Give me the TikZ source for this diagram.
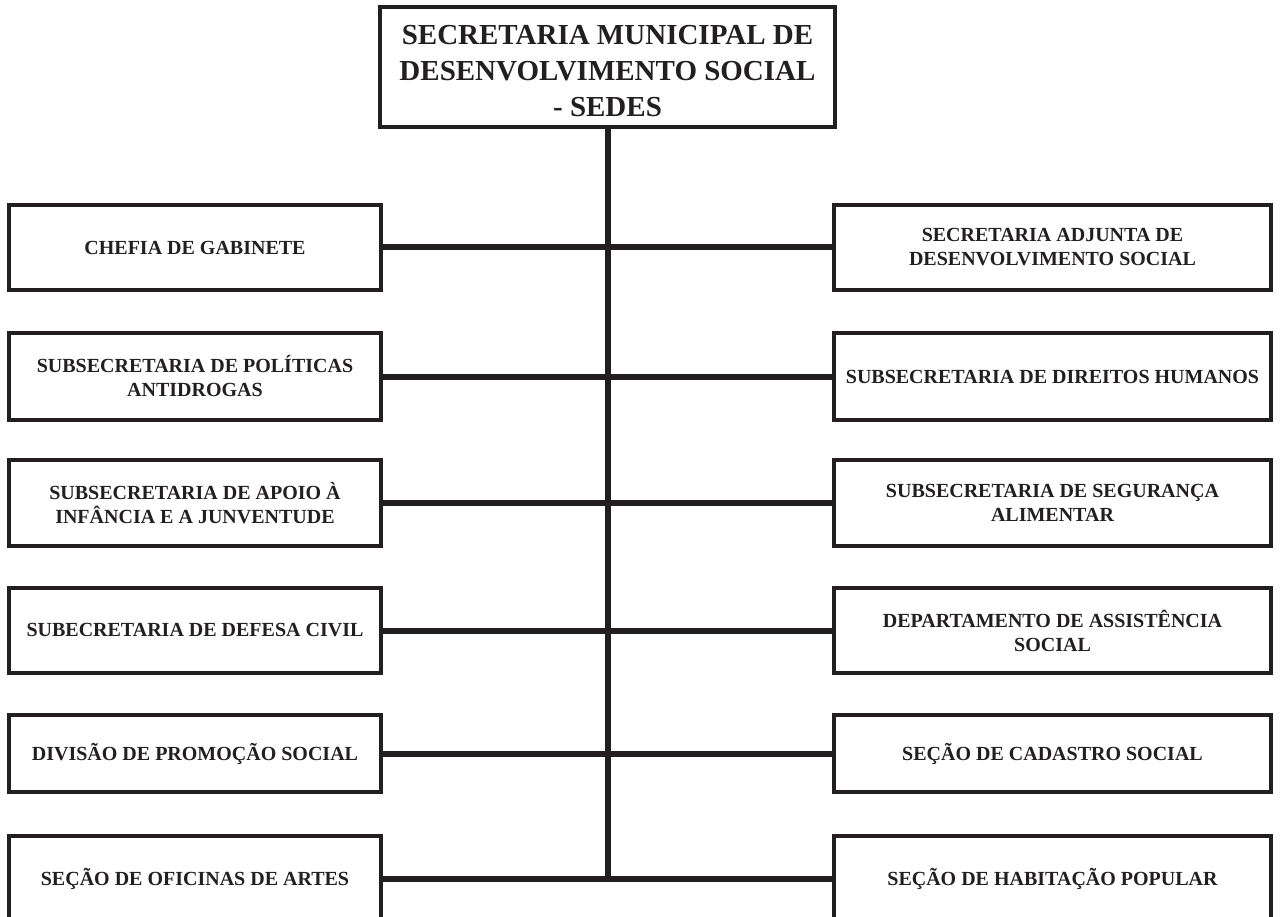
\documentclass[tikz,border=0pt]{standalone}
\usepackage{fontspec}
\setmainfont{Liberation Serif}
\definecolor{ink}{HTML}{231F20}
\begin{document}
\begin{tikzpicture}[x=1pt,y=-1pt,
  box/.style={draw=ink,line width=4pt,rectangle,inner sep=0pt,align=center,text=ink,
    font=\fontsize{20}{24}\selectfont\bfseries},
  lbox/.style={box,minimum width=372pt},
  rbox/.style={box,minimum width=437pt},
  topbox/.style={box,minimum width=455pt,minimum height=120pt},
  toptext/.style={inner sep=0pt,align=center,text=ink,
    font=\fontsize{29}{36}\selectfont\bfseries},
  link/.style={draw=ink,line width=6pt}]
\useasboundingbox (0,0) rectangle (1280,917);
\clip (0,0) rectangle (1280,917);
\fill[white] (0,0) rectangle (1280,917);

\node[topbox] (top) at (607.5,67) {};
\node[toptext] (toptxt) at (607.5,71) {SECRETARIA MUNICIPAL DE\\DESENVOLVIMENTO SOCIAL\\- SEDES};

\node[lbox,minimum height=85pt] (l1) at (195,247.5) {CHEFIA DE GABINETE};
\node[rbox,minimum height=85pt] (r1) at (1052.5,247.5) {SECRETARIA ADJUNTA DE\\DESENVOLVIMENTO SOCIAL};

\node[lbox,minimum height=87pt] (l2) at (195,376.5) {SUBSECRETARIA DE POLÍTICAS\\ANTIDROGAS};
\node[rbox,minimum height=87pt] (r2) at (1052.5,376.5) {SUBSECRETARIA DE DIREITOS HUMANOS};

\node[lbox,minimum height=86pt] (l3) at (195,503) {SUBSECRETARIA DE APOIO À\\INFÂNCIA E A JUNVENTUDE};
\node[rbox,minimum height=86pt] (r3) at (1052.5,503) {SUBSECRETARIA DE SEGURANÇA\\ALIMENTAR};

\node[lbox,minimum height=85pt] (l4) at (195,630.5) {SUBECRETARIA DE DEFESA CIVIL};
\node[rbox,minimum height=85pt] (r4) at (1052.5,630.5) {DEPARTAMENTO DE ASSISTÊNCIA\\SOCIAL};

\node[lbox,minimum height=77pt] (l5) at (195,753.5) {DIVISÃO DE PROMOÇÃO SOCIAL};
\node[rbox,minimum height=77pt] (r5) at (1052.5,753.5) {SEÇÃO DE CADASTRO SOCIAL};

\node[lbox,minimum height=86pt] (l6) at (195,879) {SEÇÃO DE OFICINAS DE ARTES};
\node[rbox,minimum height=86pt] (r6) at (1052.5,879) {SEÇÃO DE HABITAÇÃO POPULAR};

\coordinate (bot) at (607.5,879);
\draw[link] (top.south) -- (bot);
\foreach \i in {1,...,6} {\draw[link] (l\i.east) -- (r\i.west);}
\end{tikzpicture}
\end{document}
